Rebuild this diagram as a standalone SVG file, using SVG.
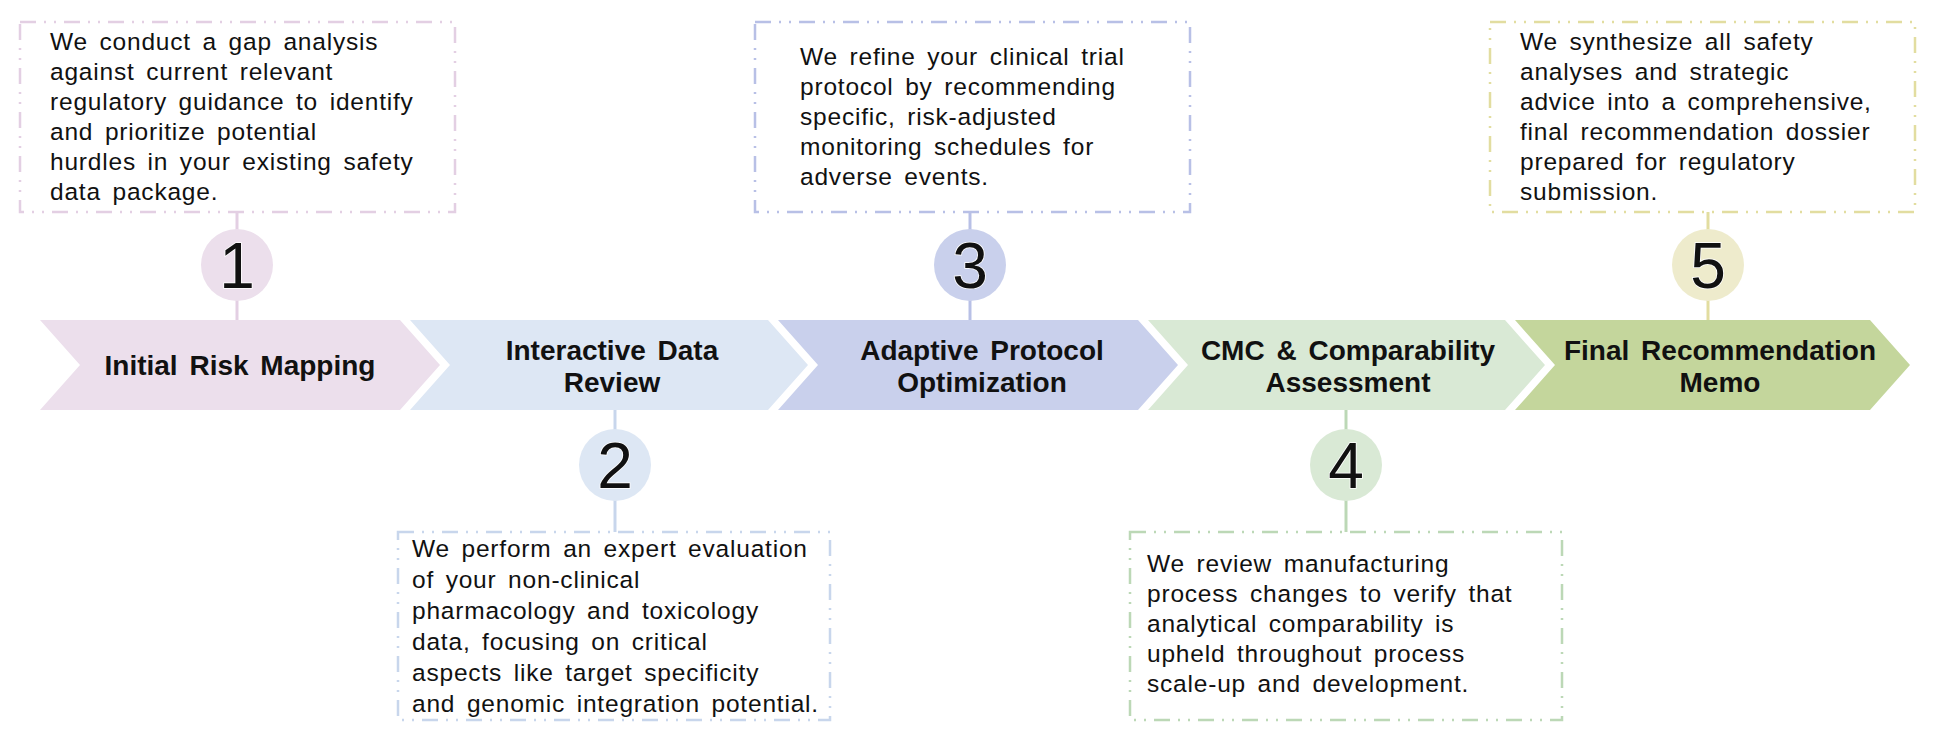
<svg xmlns="http://www.w3.org/2000/svg" width="1941" height="735" viewBox="0 0 1941 735">
<style>
.box{fill:#fff;stroke-width:2.5;stroke-dasharray:16 8 2 8 2 8}
.t{font-family:"Liberation Sans",Arial,sans-serif;font-size:24.5px;fill:#111;letter-spacing:0.8px;word-spacing:4px}
.h{font-family:"Liberation Sans",Arial,sans-serif;font-size:28px;font-weight:bold;fill:#111;text-anchor:middle;word-spacing:4px}
.n{font-family:"Liberation Sans",Arial,sans-serif;font-size:64px;fill:#111;text-anchor:middle;stroke:#fff;stroke-width:1.5;paint-order:stroke}
.ln{stroke-width:3}
</style>
<rect width="1941" height="735" fill="#fff"/>
<g id="connectors">
<line class="ln" x1="237" y1="212" x2="237" y2="322" stroke="#e3cfe3"/>
<line class="ln" x1="615" y1="408" x2="615" y2="532" stroke="#c8d6ec"/>
<line class="ln" x1="970" y1="212" x2="970" y2="322" stroke="#b8c0e6"/>
<line class="ln" x1="1346" y1="408" x2="1346" y2="532" stroke="#bcd8b6"/>
<line class="ln" x1="1708" y1="212" x2="1708" y2="322" stroke="#e2dda0"/>
</g>
<g id="step1">
<rect class="box" x="20" y="22" width="435" height="190" stroke="#e3cfe3"/>
<text class="t"><tspan x="50" y="50">We conduct a gap analysis</tspan><tspan x="50" y="80">against current relevant</tspan><tspan x="50" y="110">regulatory guidance to identify</tspan><tspan x="50" y="140">and prioritize potential</tspan><tspan x="50" y="170">hurdles in your existing safety</tspan><tspan x="50" y="200">data package.</tspan></text>
<circle cx="237" cy="265" r="36" fill="#ecdfec"/>
<text class="n" x="237" y="288">1</text>
<polygon points="40,320 400,320 440,365 400,410 40,410 80,365" fill="#ecdfec"/>
<text class="h" x="240" y="375">Initial Risk Mapping</text>
</g>
<g id="step2">
<polygon points="410,320 768,320 808,365 768,410 410,410 450,365" fill="#dde7f4"/>
<text class="h" x="612" y="360">Interactive Data</text><text class="h" x="612" y="392">Review</text>
<circle cx="615" cy="465" r="36" fill="#dde7f4"/>
<text class="n" x="615" y="488">2</text>
<rect class="box" x="398" y="532" width="432" height="188" stroke="#c8d6ec"/>
<text class="t"><tspan x="412" y="557">We perform an expert evaluation</tspan><tspan x="412" y="588">of your non-clinical</tspan><tspan x="412" y="619">pharmacology and toxicology</tspan><tspan x="412" y="650">data, focusing on critical</tspan><tspan x="412" y="681">aspects like target specificity</tspan><tspan x="412" y="712">and genomic integration potential.</tspan></text>
</g>
<g id="step3">
<rect class="box" x="755" y="22" width="435" height="190" stroke="#b8c0e6"/>
<text class="t"><tspan x="800" y="65">We refine your clinical trial</tspan><tspan x="800" y="95">protocol by recommending</tspan><tspan x="800" y="125">specific, risk-adjusted</tspan><tspan x="800" y="155">monitoring schedules for</tspan><tspan x="800" y="185">adverse events.</tspan></text>
<circle cx="970" cy="265" r="36" fill="#c9d0ec"/>
<text class="n" x="970" y="288">3</text>
<polygon points="778,320 1138,320 1178,365 1138,410 778,410 818,365" fill="#c9d0ec"/>
<text class="h" x="982" y="360">Adaptive Protocol</text><text class="h" x="982" y="392">Optimization</text>
</g>
<g id="step4">
<polygon points="1148,320 1505,320 1545,365 1505,410 1148,410 1188,365" fill="#d9e9d5"/>
<text class="h" x="1348" y="360">CMC &amp; Comparability</text><text class="h" x="1348" y="392">Assessment</text>
<circle cx="1346" cy="465" r="36" fill="#d9e9d5"/>
<text class="n" x="1346" y="488">4</text>
<rect class="box" x="1130" y="532" width="432" height="188" stroke="#bcd8b6"/>
<text class="t"><tspan x="1147" y="572">We review manufacturing</tspan><tspan x="1147" y="602">process changes to verify that</tspan><tspan x="1147" y="632">analytical comparability is</tspan><tspan x="1147" y="662">upheld throughout process</tspan><tspan x="1147" y="692">scale-up and development.</tspan></text>
</g>
<g id="step5">
<rect class="box" x="1490" y="22" width="425" height="190" stroke="#e2dda0"/>
<text class="t"><tspan x="1520" y="50">We synthesize all safety</tspan><tspan x="1520" y="80">analyses and strategic</tspan><tspan x="1520" y="110">advice into a comprehensive,</tspan><tspan x="1520" y="140">final recommendation dossier</tspan><tspan x="1520" y="170">prepared for regulatory</tspan><tspan x="1520" y="200">submission.</tspan></text>
<circle cx="1708" cy="265" r="36" fill="#eeebcc"/>
<text class="n" x="1708" y="288">5</text>
<polygon points="1515,320 1870,320 1910,365 1870,410 1515,410 1555,365" fill="#c4d69c"/>
<text class="h" x="1720" y="360">Final Recommendation</text><text class="h" x="1720" y="392">Memo</text>
</g>
</svg>
